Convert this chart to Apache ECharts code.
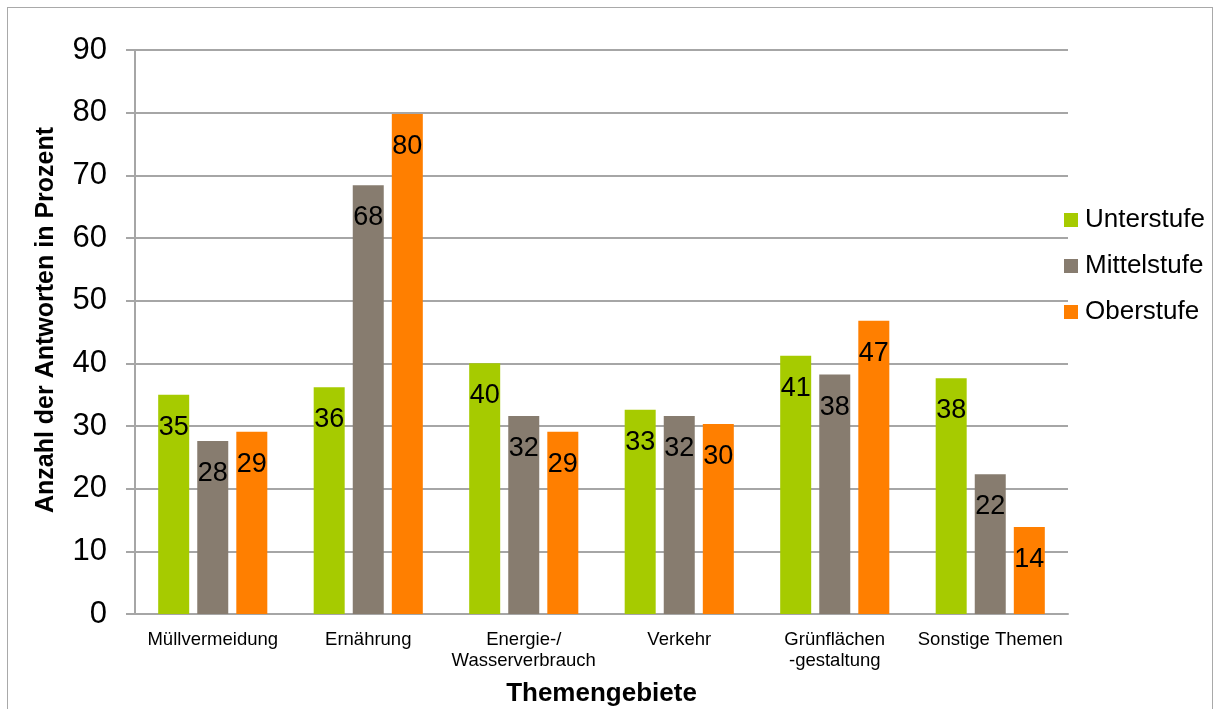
<!DOCTYPE html>
<html>
<head>
<meta charset="utf-8">
<script src="https://cdn.jsdelivr.net/npm/echarts@6/dist/echarts.min.js"></script>
<style>
  html, body { margin: 0; padding: 0; background: #fff; }
  #chart { width: 1215px; height: 709px; }
  #frame {
    position: absolute; left: 7px; top: 7px; width: 1206px; height: 720px;
    border: 1px solid #a9a9a9; box-sizing: border-box; pointer-events: none;
  }
</style>
</head>
<body>
<div id="chart"></div>
<div id="frame"></div>
<script>
// Themengebiete (x-axis categories)
const categories = [
  'Müllvermeidung',
  'Ernährung',
  'Energie-/\nWasserverbrauch',
  'Verkehr',
  'Grünflächen\n-gestaltung',
  'Sonstige Themen'
];

// Anteil der Antworten in Prozent je Stufe
const unterstufe = [35.0, 36.2, 40.0, 32.6, 41.2, 37.6];
const mittelstufe = [27.6, 68.4, 31.6, 31.6, 38.2, 22.3];
const oberstufe  = [29.1, 79.8, 29.1, 30.3, 46.8, 13.9];

const seriesNames = ['Unterstufe', 'Mittelstufe', 'Oberstufe'];
const yTicks = { min: 0, max: 90, interval: 10 };

const FONT = "'Liberation Sans', Arial, sans-serif";
const colors = ['#a6cb00', '#877c6f', '#ff7f00'];

const barLabel = {
  show: true,
  position: 'insideTop',
  distance: 19,
  color: '#000',
  fontSize: 27,
  fontFamily: FONT,
  formatter: p => Math.round(p.value)
};

function makeSeries(name, data, color) {
  return {
    name: name,
    type: 'bar',
    data: data,
    barWidth: 31,
    barGap: '26%',
    itemStyle: { color: color },
    label: barLabel
  };
}

const chart = echarts.init(document.getElementById('chart'), null, { renderer: 'canvas' });

chart.setOption({
  animation: false,
  color: colors,
  textStyle: { fontFamily: FONT },
  grid: { left: 135, right: 147, top: 50, bottom: 95, containLabel: false, outerBoundsMode: 'none' },
  legend: {
    orient: 'vertical',
    left: 1064,
    top: 207,
    padding: 0,
    icon: 'rect',
    itemWidth: 14,
    itemHeight: 14,
    itemGap: 20,
    data: seriesNames,
    textStyle: { fontSize: 26, lineHeight: 26, color: '#000', fontFamily: FONT, padding: [0, 0, 0, 2] }
  },
  xAxis: {
    type: 'category',
    data: categories,
    name: 'Themengebiete',
    nameLocation: 'middle',
    nameGap: 67,
    nameTextStyle: { fontSize: 26, fontWeight: 'bold', color: '#000', fontFamily: FONT },
    axisLine: { show: true, lineStyle: { color: '#a6a6a6', width: 2 } },
    axisTick: { show: false },
    axisLabel: {
      interval: 0,
      margin: 15,
      fontSize: 18.5,
      lineHeight: 21,
      color: '#000',
      fontFamily: FONT
    }
  },
  yAxis: {
    type: 'value',
    min: yTicks.min,
    max: yTicks.max,
    interval: yTicks.interval,
    name: 'Anzahl der Antworten in Prozent',
    nameLocation: 'middle',
    nameGap: 76,
    nameTextStyle: {
      fontSize: 25, fontWeight: 'bold', color: '#000', fontFamily: FONT,
      padding: [0, 0, 0, 24]
    },
    axisLine: { show: true, lineStyle: { color: '#a6a6a6', width: 2 } },
    axisTick: { show: true, length: 9, inside: false, lineStyle: { color: '#a6a6a6', width: 2 } },
    axisLabel: { margin: 28, fontSize: 31, color: '#000', fontFamily: FONT },
    splitLine: { show: true, lineStyle: { color: '#a6a6a6', width: 2 } }
  },
  series: [
    makeSeries(seriesNames[0], unterstufe, colors[0]),
    makeSeries(seriesNames[1], mittelstufe, colors[1]),
    makeSeries(seriesNames[2], oberstufe, colors[2])
  ]
});
</script>
</body>
</html>
